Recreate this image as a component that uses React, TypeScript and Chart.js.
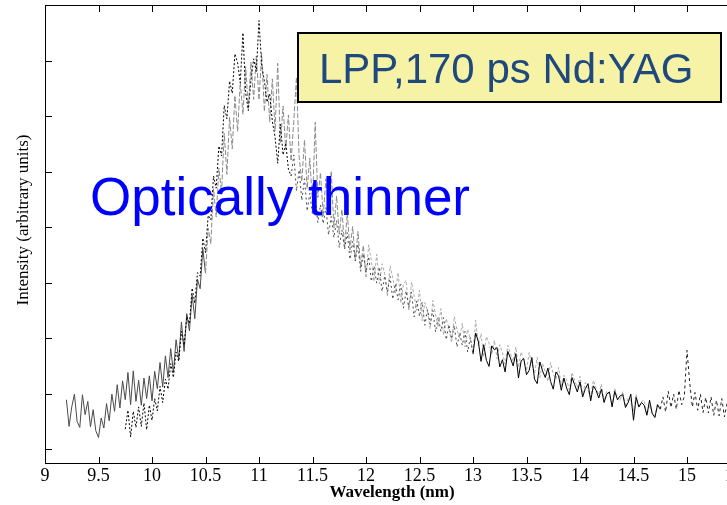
import React, { useEffect, useRef } from 'react';
import { Chart, registerables } from 'chart.js';

Chart.register(...registerables);

// Spectrometer sampling
const STEP = 0.025; // nm
const GREY_START = 9.2;
const BLACK_START = 9.75;

// Axis ranges and inner tick marks
const X_MIN = 9;
const X_MAX = 16;
const Y_MIN = -2.5;
const Y_MAX = 80;
const X_TICKS = [9.5, 10, 10.5, 11, 11.5, 12, 12.5, 13, 13.5, 14, 14.5, 15, 15.5];
const Y_TICKS = [0, 10, 20, 30, 40, 50, 60, 70];

// Annotations
const X_TITLE = 'Wavelength (nm)';
const Y_TITLE = 'Intensity (arbitrary units)';
const NOTE = 'Optically thinner';
const SOURCE = 'LPP,170 ps Nd:YAG';

// Grey spectrum, starting at 9.2 nm
const greyIntensity = [
  8.9, 4.1, 7.6, 9.9,
  5.0, 3.9, 9.8, 6.2,
  8.6, 4.0, 7.1, 3.3,
  2.1, 5.6, 3.8, 8.2,
  5.1, 9.9, 6.8, 11.6,
  7.4, 12.3, 8.9, 13.8,
  8.0, 14.1, 8.6, 12.4,
  7.9, 12.8, 9.1, 13.2,
  8.7, 14.0, 10.9, 15.6,
  11.2, 16.8, 12.9, 18.1,
  13.8, 19.7, 16.2, 22.9,
  17.6, 24.4, 21.3, 27.8,
  23.5, 30.6, 28.9, 36.1,
  31.7, 39.8, 37.0, 46.9,
  41.8, 50.6, 46.2, 56.9,
  49.5, 59.8, 54.1, 63.7,
  57.2, 66.1, 60.3, 68.9,
  61.4, 69.7, 63.0, 70.8,
  62.9, 71.3, 60.8, 67.5,
  58.9, 66.7, 57.3, 69.5,
  55.1, 61.8, 54.0, 60.2,
  51.9, 59.0, 67.0, 52.6,
  48.2, 55.7, 46.9, 52.4,
  44.1, 58.9, 45.3, 49.8,
  42.0, 48.7, 43.4, 50.1,
  39.8, 45.6, 38.7, 43.2,
  36.4, 42.5, 35.9, 40.1,
  34.0, 39.2, 32.8, 36.7,
  31.0, 36.8, 33.9, 30.2,
  35.1, 29.8, 33.4, 31.6,
  27.5, 33.0, 30.9, 28.1,
  31.8, 26.3, 29.7, 30.4,
  24.9, 30.1, 27.6, 25.0,
  28.6, 23.1, 26.4, 24.9,
  21.7, 26.8, 24.2, 22.0,
  25.3, 20.6, 23.5, 21.9,
  19.2, 23.9, 21.5, 20.0,
  22.7, 18.4, 21.6, 19.9,
  17.3, 23.2, 18.6, 20.8,
  16.6, 20.3, 19.1, 17.0,
  19.6, 16.2, 18.8, 17.4,
  15.3, 18.7, 17.2, 15.8,
  18.4, 14.7, 17.5, 15.9,
  14.1, 17.4, 15.3, 13.6,
  16.5, 12.9, 15.4, 14.0,
  12.2, 15.6, 13.5, 12.6,
  14.7, 11.4, 13.3, 12.5,
  10.7, 13.8, 12.4, 11.1,
  13.1, 9.9, 12.0, 10.6,
  9.4, 12.4, 10.9, 9.8,
  11.7, 8.6, 10.5, 9.9,
  8.1, 11.0, 9.3, 8.7,
  10.4, 7.6, 9.2, 8.8,
  6.9, 9.9, 7.4, 8.6,
  8.8, 6.2, 7.9, 6.6,
  5.9, 8.2,
];

// Black spectrum, starting at 9.75 nm
const blackIntensity = [
  3.6, 7.0,
  2.2, 6.8, 3.9, 7.6,
  4.1, 8.3, 3.5, 7.9,
  5.2, 9.1, 6.9, 11.3,
  8.4, 12.6, 10.8, 15.4,
  12.9, 17.5, 15.8, 21.2,
  18.7, 23.9, 22.6, 29.0,
  26.3, 31.8, 31.2, 38.0,
  35.4, 42.1, 41.3, 49.2,
  47.0, 54.6, 52.8, 61.9,
  59.5, 66.3, 64.1, 71.2,
  69.6, 66.0, 75.0, 64.2,
  61.0, 66.5, 70.3, 68.0,
  77.2, 69.1, 66.4, 62.5,
  64.0, 59.0, 56.2, 51.5,
  58.5, 53.0, 55.1, 50.4,
  49.2, 53.0, 46.5, 50.3,
  44.8, 48.7, 42.9, 46.1,
  42.3, 45.5, 40.8, 44.0,
  40.6, 43.5, 38.6, 41.9,
  38.1, 41.2, 36.3, 39.5,
  36.0, 39.0, 34.2, 37.4,
  33.9, 36.9, 32.0, 35.2,
  31.8, 34.7, 30.2, 33.0,
  29.9, 32.8, 28.4, 31.2,
  28.3, 31.1, 27.0, 29.8,
  26.9, 29.7, 25.4, 28.5,
  25.5, 28.3, 23.8, 26.7,
  23.9, 26.5, 22.3, 25.1,
  22.5, 25.0, 21.1, 23.8,
  21.2, 23.7, 19.7, 22.4,
  19.8, 22.3, 18.4, 21.0,
  18.7, 21.2, 17.5, 20.1,
  17.1, 20.9, 19.4, 15.8,
  18.8, 16.0, 14.9, 18.6,
  17.9, 18.3, 14.8, 16.1,
  13.9, 17.6, 16.4, 15.0,
  17.2, 12.8, 15.9, 16.3,
  13.4, 14.2, 16.5, 12.6,
  11.8, 15.7, 14.1, 12.9,
  14.6, 12.2, 10.8, 13.9,
  13.2, 10.6, 12.8, 11.0,
  9.8, 12.9, 11.6, 10.3,
  12.1, 9.4, 10.9, 11.8,
  8.7, 11.4, 10.6, 9.2,
  10.8, 8.4, 9.9, 10.3,
  7.6, 10.4, 8.9, 9.6,
  9.8, 7.5, 8.4, 9.9,
  5.2, 9.3, 7.6, 8.4,
  7.9, 6.1, 8.8, 6.4,
  5.7, 8.0, 7.2, 9.4,
  6.7, 10.4, 7.5, 9.9,
  7.2, 10.6, 8.0, 9.5,
  17.8, 12.0, 7.6, 10.2,
  7.0, 9.9, 6.6, 9.3,
  6.5, 9.4, 6.1, 8.8,
  6.0, 9.1, 5.8, 8.3,
  5.7, 8.6, 5.3, 8.0,
  5.5, 8.1, 5.0, 7.6,
];

const SERIF = '"Liberation Serif", "Times New Roman", Times, serif';
const SANS = '"Liberation Sans", Arial, Helvetica, sans-serif';

const CANVAS_W = 824;
const CANVAS_H = 505;

const toPoints = (start: number, values: number[]) =>
  values.map((y, i) => ({ x: Math.round((start + i * STEP) * 1000) / 1000, y }));

// Frame, inward tick marks, axis titles and the two text annotations
const decorations = {
  id: 'decorations',
  afterDraw(chart: any) {
    const { ctx, chartArea, scales } = chart;
    const { left, top, right, bottom } = chartArea;
    const x = scales.x;
    const y = scales.y;
    ctx.save();
    ctx.strokeStyle = '#000';
    ctx.lineWidth = 1;
    ctx.beginPath();
    ctx.moveTo(left + 0.5, top + 0.5);
    ctx.lineTo(right, top + 0.5);
    ctx.moveTo(left + 0.5, top);
    ctx.lineTo(left + 0.5, bottom + 0.5);
    ctx.moveTo(left, bottom + 0.5);
    ctx.lineTo(right, bottom + 0.5);
    ctx.moveTo(right - 0.5, top);
    ctx.lineTo(right - 0.5, bottom);
    for (const v of X_TICKS) {
      const px = Math.round(x.getPixelForValue(v)) + 0.5;
      ctx.moveTo(px, bottom);
      ctx.lineTo(px, bottom - 6);
      ctx.moveTo(px, top);
      ctx.lineTo(px, top + 7);
    }
    for (const v of Y_TICKS) {
      const py = Math.round(y.getPixelForValue(v)) + 0.5;
      ctx.moveTo(left, py);
      ctx.lineTo(left + 7, py);
    }
    ctx.stroke();

    ctx.fillStyle = '#000';
    ctx.textAlign = 'center';
    ctx.textBaseline = 'middle';
    ctx.font = `bold 17px ${SERIF}`;
    ctx.fillText(X_TITLE, 392, 493);

    ctx.save();
    ctx.translate(24, 220);
    ctx.rotate(-Math.PI / 2);
    ctx.font = `17px ${SERIF}`;
    ctx.fillText(Y_TITLE, 0, 0);
    ctx.restore();

    ctx.textAlign = 'left';
    ctx.textBaseline = 'alphabetic';
    ctx.fillStyle = '#0000FF';
    ctx.font = `53px ${SANS}`;
    ctx.fillText(NOTE, 90, 215);

    ctx.fillStyle = '#F7F3A6';
    ctx.fillRect(298, 33, 423, 69);
    ctx.lineWidth = 2;
    ctx.strokeStyle = '#000';
    ctx.strokeRect(298, 33, 423, 69);
    ctx.fillStyle = '#1F497D';
    ctx.font = `42px ${SANS}`;
    ctx.fillText(SOURCE, 319, 83);
    ctx.restore();
  },
};

const greyColor = (x: number) => (x < 10.5 ? '#4a4a4a' : x < 12 ? '#8a8a8a' : '#ababab');
const greyDash = (x: number) => (x < 10.5 ? [] : x < 12 ? [5, 2] : [3, 2]);
const blackColor = (x: number) => (x < 11.3 ? '#000' : x < 13 ? '#444' : x < 14.75 ? '#000' : '#222');
const blackDash = (x: number) => (x < 11.3 ? [2, 2] : x < 13 ? [2, 3] : x < 14.75 ? [] : [3, 3]);

export default function App() {
  const canvasRef = useRef<HTMLCanvasElement | null>(null);

  useEffect(() => {
    const canvas = canvasRef.current;
    if (!canvas) return;
    const chart = new Chart(canvas, {
      type: 'line',
      data: {
        datasets: [
          {
            label: 'black',
            data: toPoints(BLACK_START, blackIntensity),
            borderColor: '#000',
            borderWidth: 1,
            pointRadius: 0,
            tension: 0,
            segment: {
              borderColor: (c: any) => blackColor(c.p0.parsed.x),
              borderDash: (c: any) => blackDash(c.p0.parsed.x),
            },
          },
          {
            label: 'grey',
            data: toPoints(GREY_START, greyIntensity),
            borderColor: '#888',
            borderWidth: 1,
            pointRadius: 0,
            tension: 0,
            segment: {
              borderColor: (c: any) => greyColor(c.p0.parsed.x),
              borderDash: (c: any) => greyDash(c.p0.parsed.x),
            },
          },
        ],
      },
      options: {
        animation: false,
        responsive: false,
        devicePixelRatio: 1,
        parsing: false as any,
        normalized: true,
        layout: { padding: { top: 5, right: 30, left: 0, bottom: 0 } },
        plugins: { legend: { display: false }, tooltip: { enabled: false } },
        events: [],
        scales: {
          x: {
            type: 'linear',
            min: X_MIN,
            max: X_MAX,
            afterFit: (s: any) => {
              s.height = 42;
            },
            afterBuildTicks: (s: any) => {
              s.ticks = [9, ...X_TICKS, 16].map((v) => ({ value: v }));
            },
            ticks: {
              autoSkip: false,
              maxRotation: 0,
              padding: 2,
              color: '#000',
              font: { family: SERIF, size: 18 },
              callback: (v: any) => String(v),
            },
            grid: { display: false, drawTicks: false },
            border: { display: false },
          },
          y: {
            type: 'linear',
            min: Y_MIN,
            max: Y_MAX,
            afterFit: (s: any) => {
              s.width = 45;
            },
            ticks: { display: false },
            grid: { display: false, drawTicks: false },
            border: { display: false },
          },
        },
      },
      plugins: [decorations],
    });
    return () => chart.destroy();
  }, []);

  return (
    <div
      style={{
        position: 'fixed',
        left: 0,
        top: 0,
        width: 727,
        height: 505,
        overflow: 'hidden',
        background: '#fff',
      }}
    >
      <canvas
        ref={canvasRef}
        width={CANVAS_W}
        height={CANVAS_H}
        style={{ display: 'block', width: CANVAS_W, height: CANVAS_H }}
      />
    </div>
  );
}
